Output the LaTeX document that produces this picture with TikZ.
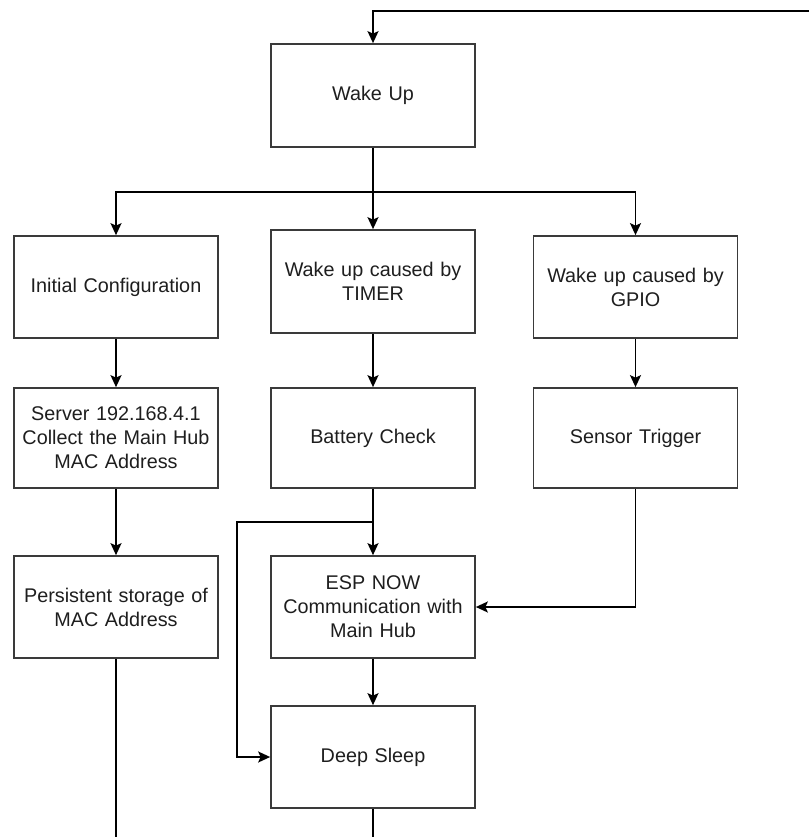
\documentclass[tikz,border=0pt]{standalone}
\usepackage{fontspec}
\setmainfont{Liberation Sans}
\usetikzlibrary{arrows.meta}
\definecolor{boxline}{HTML}{3A3A3A}
\definecolor{txt}{HTML}{1E1E1E}
\tikzset{
  stepbox/.style={draw=boxline, line width=1.7pt, rectangle,
    minimum width=204pt, minimum height=102pt, inner sep=2pt,
    align=center, text=txt, text width=200pt,
    font=\fontsize{19.8}{24}\selectfont},
  arr/.style={draw=black, line width=1.9pt,
    -{Stealth[length=12pt, width=11pt, inset=2.5pt]}},
  wire/.style={draw=black, line width=1.9pt}
}
\begin{document}
\begin{tikzpicture}[x=1pt,y=-1pt]
\useasboundingbox (0,0) rectangle (809,837);

% boxes
\node[stepbox, minimum height=103pt] (wake)  at (373,95.5)  {Wake Up};
\node[stepbox] (init)    at (116,287)   {Initial Configuration};
\node[stepbox, minimum height=103pt] (timer) at (373,281.5) {Wake up caused by\\TIMER};
\node[stepbox] (gpio)    at (635.5,287) {Wake up caused by\\GPIO};
\node[stepbox, minimum height=100pt] (server)  at (116,438)   {Server 192.168.4.1\\Collect the Main Hub\\MAC Address};
\node[stepbox, minimum height=100pt] (battery) at (373,438)   {Battery Check};
\node[stepbox, minimum height=100pt] (sensor)  at (635.5,438) {Sensor Trigger};
\node[stepbox] (persist) at (116,607)   {Persistent storage of\\MAC Address};
\node[stepbox] (esp)     at (373,607)   {ESP NOW\\Communication with\\Main Hub};
\node[stepbox] (sleep)   at (373,757)   {Deep Sleep};

% free ends of the connectors
\coordinate (loopin)  at (809,11);
\coordinate (loopC)   at (237,522);
\coordinate (persEnd) at (116,837);
\coordinate (sleepEnd) at (373,837);

% connectors
\draw[arr] (loopin) -| (wake.north);
\draw[arr] (wake.south) -- (timer.north);
\draw[arr] (wake.south) -- ++(0,44) -| (init.north);
\draw[arr] (wake.south) -- ++(0,44) -| (gpio.north);
\draw[arr] (init.south) -- (server.north);
\draw[arr] (server.south) -- (persist.north);
\draw[arr] (timer.south) -- (battery.north);
\draw[arr] (gpio.south) -- (sensor.north);
\draw[arr] (battery.south) -- (esp.north);
\draw[arr] (battery.south) |- (loopC) |- (sleep.west);
\draw[arr] (sensor.south) |- (esp.east);
\draw[arr] (esp.south) -- (sleep.north);
\draw[wire] (persist.south) -- (persEnd);
\draw[wire] (sleep.south) -- (sleepEnd);
\end{tikzpicture}
\end{document}
